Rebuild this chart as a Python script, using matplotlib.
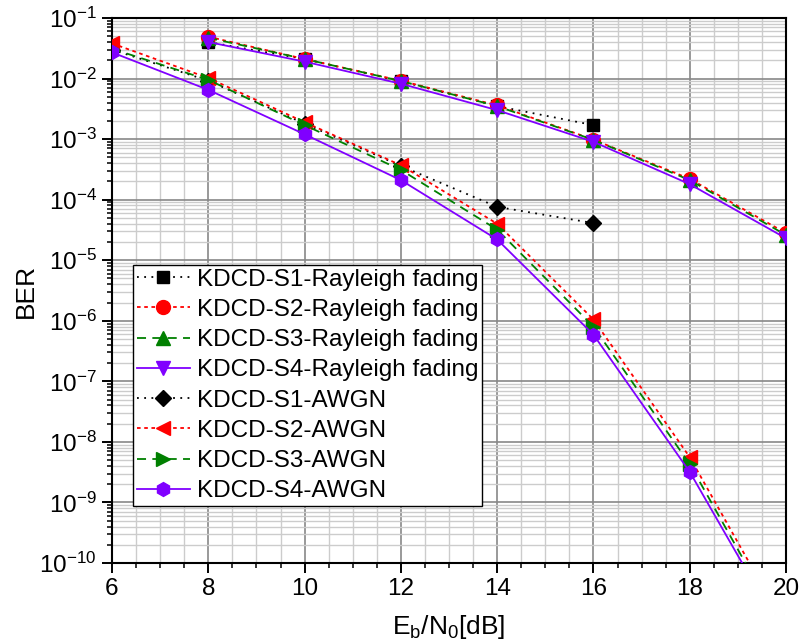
import matplotlib
matplotlib.use("Agg")
import matplotlib.pyplot as plt
import numpy as np
from matplotlib.ticker import LogLocator, MultipleLocator, NullFormatter

plt.rcParams['font.family'] = ['Liberation Sans', 'DejaVu Sans']
plt.rcParams['mathtext.fontset'] = 'custom'
plt.rcParams['mathtext.rm'] = 'Liberation Sans'
plt.rcParams['mathtext.it'] = 'Liberation Sans:italic'
plt.rcParams['mathtext.bf'] = 'Liberation Sans:bold'

# Data
snr_ray = [8, 10, 12, 14, 16, 18, 20]
snr_awgn = [6, 8, 10, 12, 14, 16, 18, 20]

s1_ray = [0.040, 0.021, 0.0090, 0.0035, 0.0017]
s2_ray = [0.049, 0.021, 0.0092, 0.0036, 0.00098, 2.2e-4, 2.8e-5]
s3_ray = [0.047, 0.021, 0.0091, 0.0035, 0.00097, 2.1e-4, 2.6e-5]
s4_ray = [0.040, 0.019, 0.0082, 0.0030, 0.00090, 1.8e-4, 2.3e-5]

s1_awgn = [0.030, 0.0092, 0.0018, 3.6e-4, 7.6e-5, 4.1e-5]
s2_awgn = [0.038, 0.0102, 0.0019, 3.7e-4, 4.0e-5, 1.05e-6, 5.6e-9, 8.5e-12]
s3_awgn = [0.031, 0.0095, 0.0017, 3.1e-4, 3.2e-5, 8.0e-7, 4.3e-9, 6.5e-12]
s4_awgn = [0.027, 0.0065, 0.0012, 2.1e-4, 2.2e-5, 5.9e-7, 3.2e-9, 5.5e-12]

labels = ['KDCD-S1-Rayleigh fading', 'KDCD-S2-Rayleigh fading',
          'KDCD-S3-Rayleigh fading', 'KDCD-S4-Rayleigh fading',
          'KDCD-S1-AWGN', 'KDCD-S2-AWGN', 'KDCD-S3-AWGN', 'KDCD-S4-AWGN']

fig = plt.figure(figsize=(8, 6.41), dpi=100)
ax = fig.add_axes([0.14, 0.1217, 0.8425, 0.8503])

red = '#FF0000'
green = '#008000'
purple = '#8000FF'
ms = 10

ax.plot(snr_ray[:len(s1_ray)], s1_ray, color='black', linestyle=(0, (1, 3)), lw=1.3,
        marker='s', ms=ms-1.5, label=labels[0], zorder=3)
ax.plot(snr_ray, s2_ray, color=red, linestyle=(0, (2, 2)), lw=1.3,
        marker='o', ms=ms, label=labels[1], zorder=3)
ax.plot(snr_ray, s3_ray, color=green, linestyle=(0, (5, 3.5)), lw=1.3,
        marker='^', ms=ms, label=labels[2], zorder=3)
ax.plot(snr_ray, s4_ray, color=purple, linestyle='-', lw=1.3,
        marker='v', ms=ms, label=labels[3], zorder=3)

ax.plot(snr_awgn[:len(s1_awgn)], s1_awgn, color='black', linestyle=(0, (1, 3)), lw=1.3,
        marker='D', ms=ms-1.5, label=labels[4], zorder=3)
ax.plot(snr_awgn, s2_awgn, color=red, linestyle=(0, (2, 2)), lw=1.3,
        marker='<', ms=ms, label=labels[5], zorder=3)
ax.plot(snr_awgn, s3_awgn, color=green, linestyle=(0, (5, 3.5)), lw=1.3,
        marker='>', ms=ms, label=labels[6], zorder=3)
ax.plot(snr_awgn, s4_awgn, color=purple, linestyle='-', lw=1.3,
        marker='h', ms=ms, label=labels[7], zorder=3)

ax.set_yscale('log')
ax.set_xlim(6, 20)
ax.set_ylim(1e-10, 1e-1)
ax.xaxis.set_major_locator(MultipleLocator(2))
ax.xaxis.set_minor_locator(MultipleLocator(0.5))
ax.yaxis.set_major_locator(LogLocator(base=10, numticks=20))
ax.yaxis.set_minor_locator(LogLocator(base=10, subs=np.arange(2, 10), numticks=20))
ax.yaxis.set_minor_formatter(NullFormatter())

ax.grid(which='major', color='#888888', lw=1.2, zorder=0)
ax.grid(which='minor', color='#cccccc', lw=1.0, zorder=0)
ax.set_axisbelow(True)

for s in ax.spines.values():
    s.set_linewidth(1.5)
    s.set_color('black')

ax.tick_params(axis='both', which='major', labelsize=17.5, direction='out', length=7, width=1.4, pad=4)
ax.tick_params(axis='both', which='minor', direction='out', length=3.6, width=1.1)

ax.set_xlabel(r'E$_\mathregular{b}$/N$_\mathregular{0}$[dB]', fontsize=19, labelpad=9)
ax.set_ylabel('BER', fontsize=19, labelpad=1)

leg = ax.legend(loc='upper left', bbox_to_anchor=(0.031, 0.547), borderaxespad=0,
                fontsize=17.5, handlelength=2.2, labelspacing=0.34, handletextpad=0.3,
                borderpad=0.15, fancybox=False, framealpha=1, edgecolor='black')
leg.get_frame().set_linewidth(1.0)

fig.savefig('out.png', dpi=100)
